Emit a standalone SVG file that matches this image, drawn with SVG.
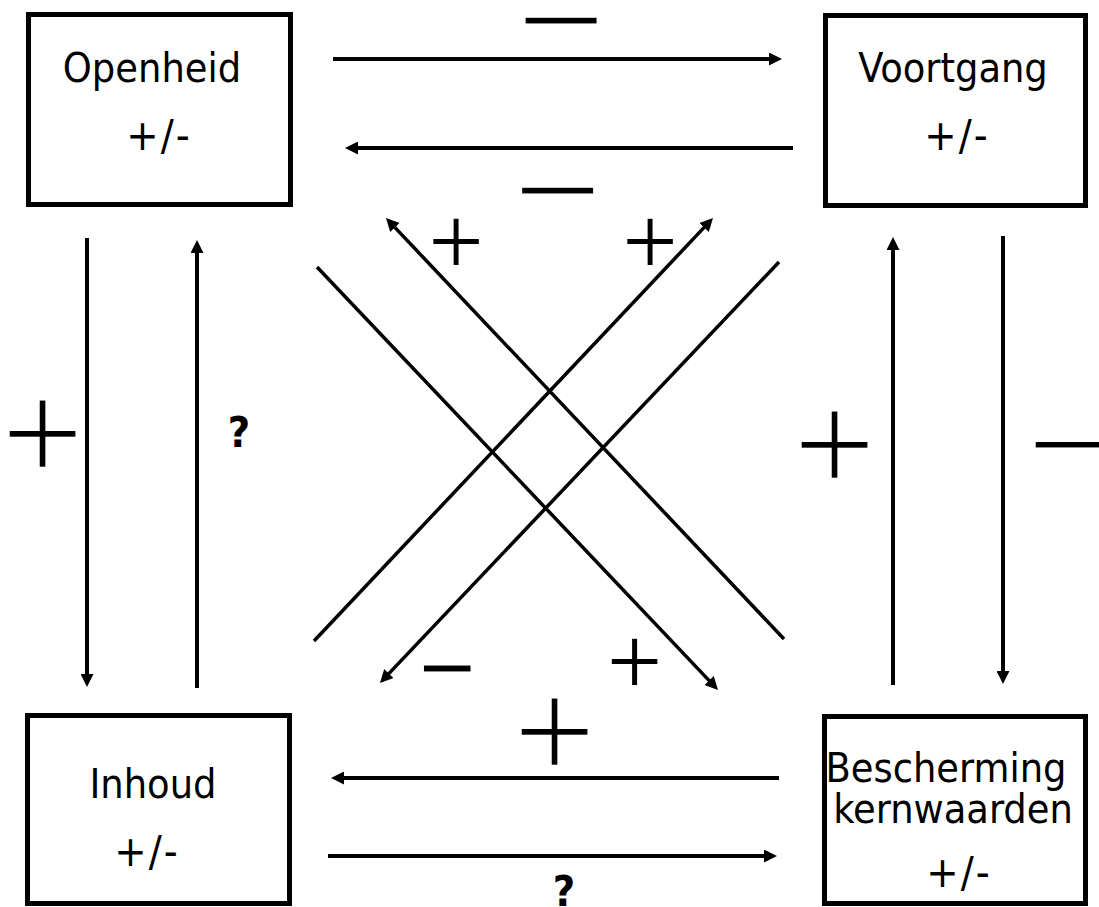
<svg xmlns="http://www.w3.org/2000/svg" width="1099" height="907" viewBox="0 0 1099 907">
<defs>
<marker id="ah" markerUnits="userSpaceOnUse" markerWidth="13" markerHeight="13" refX="6" refY="6.5" orient="auto" viewBox="0 0 13 13"><path d="M0,0 L13,6.5 L0,13 z" fill="#000"/></marker>
<style>
.box{fill:#fff;stroke:#000;stroke-width:5}
.lbl{font-family:'DejaVu Sans Condensed','DejaVu Sans',sans-serif;font-stretch:condensed;font-size:41px;fill:#000;text-anchor:middle}
.pm{font-size:43px;letter-spacing:2px}
.q{font-family:'DejaVu Sans Condensed','DejaVu Sans',sans-serif;font-stretch:condensed;font-weight:bold;font-size:43px;fill:#000;text-anchor:middle}
.ar{stroke:#000;stroke-width:4;fill:none;marker-end:url(#ah)}
.dg{stroke:#000;stroke-width:3.5;fill:none}
.sg{font-family:'Liberation Sans',Arial,sans-serif;fill:#000;stroke:#fff;text-anchor:middle;dominant-baseline:central}
.big{font-size:145px;stroke-width:4.7}
.sm{font-size:98px;stroke-width:2}
.mb{font-size:157px;stroke-width:5.3}
.ms{font-size:98px;stroke-width:1}
</style>
</defs>
<rect width="1099" height="907" fill="#fff"/>
<g id="labels">
<text class="sg mb" x="561" y="18">−</text>
<text class="sg mb" x="557.5" y="188">−</text>
<text class="sg big" x="42.5" y="431.5">+</text>
<text class="sg big" x="834.5" y="442.5">+</text>
<text class="sg big" x="1068.5" y="443">−</text>
<text class="sg big" x="554.5" y="729.5">+</text>
<text class="sg sm" x="456" y="241">+</text>
<text class="sg sm" x="650" y="241">+</text>
<text class="sg sm" x="634.5" y="661">+</text>
<text class="sg ms" x="447" y="667">−</text>
<text class="q" x="239" y="447">?</text>
<text class="q" x="564" y="906">?</text>
</g>
<g id="connectors">
<line class="ar" x1="333" y1="59" x2="775" y2="59"/>
<line class="ar" x1="793" y1="148" x2="352" y2="148"/>
<line class="ar" x1="779" y1="778" x2="338" y2="778"/>
<line class="ar" x1="328" y1="856" x2="770" y2="856"/>
<line class="ar" x1="87" y1="238" x2="87" y2="680"/>
<line class="ar" x1="197" y1="688" x2="197" y2="247"/>
<line class="ar" x1="893" y1="685" x2="893" y2="244"/>
<line class="ar" x1="1003" y1="236" x2="1003" y2="677"/>
<line class="ar dg" x1="317" y1="267" x2="713.2" y2="684.9"/>
<line class="ar dg" x1="784" y1="639" x2="390.8" y2="223.1"/>
<line class="ar dg" x1="314" y1="641" x2="708.2" y2="223.1"/>
<line class="ar dg" x1="779" y1="262" x2="384.8" y2="677.9"/>
</g>
<g id="openheid">
<rect class="box" x="28.5" y="14.5" width="262" height="190"/>
<text class="lbl" x="152" y="82">Openheid</text>
<text class="lbl pm" x="159" y="150">+/-</text>
</g>
<g id="voortgang">
<rect class="box" x="825.5" y="15.5" width="260" height="190"/>
<text class="lbl" x="953" y="82">Voortgang</text>
<text class="lbl pm" x="957" y="150">+/-</text>
</g>
<g id="inhoud">
<rect class="box" x="27.5" y="715.5" width="262" height="188"/>
<text class="lbl" x="153" y="798">Inhoud</text>
<text class="lbl pm" x="147" y="866">+/-</text>
</g>
<g id="bescherming">
<rect class="box" x="824.5" y="716.5" width="261" height="187"/>
<text class="lbl" x="946" y="782">Bescherming</text>
<text class="lbl" x="953" y="823">kernwaarden</text>
<text class="lbl pm" x="959" y="887">+/-</text>
</g>
</svg>
